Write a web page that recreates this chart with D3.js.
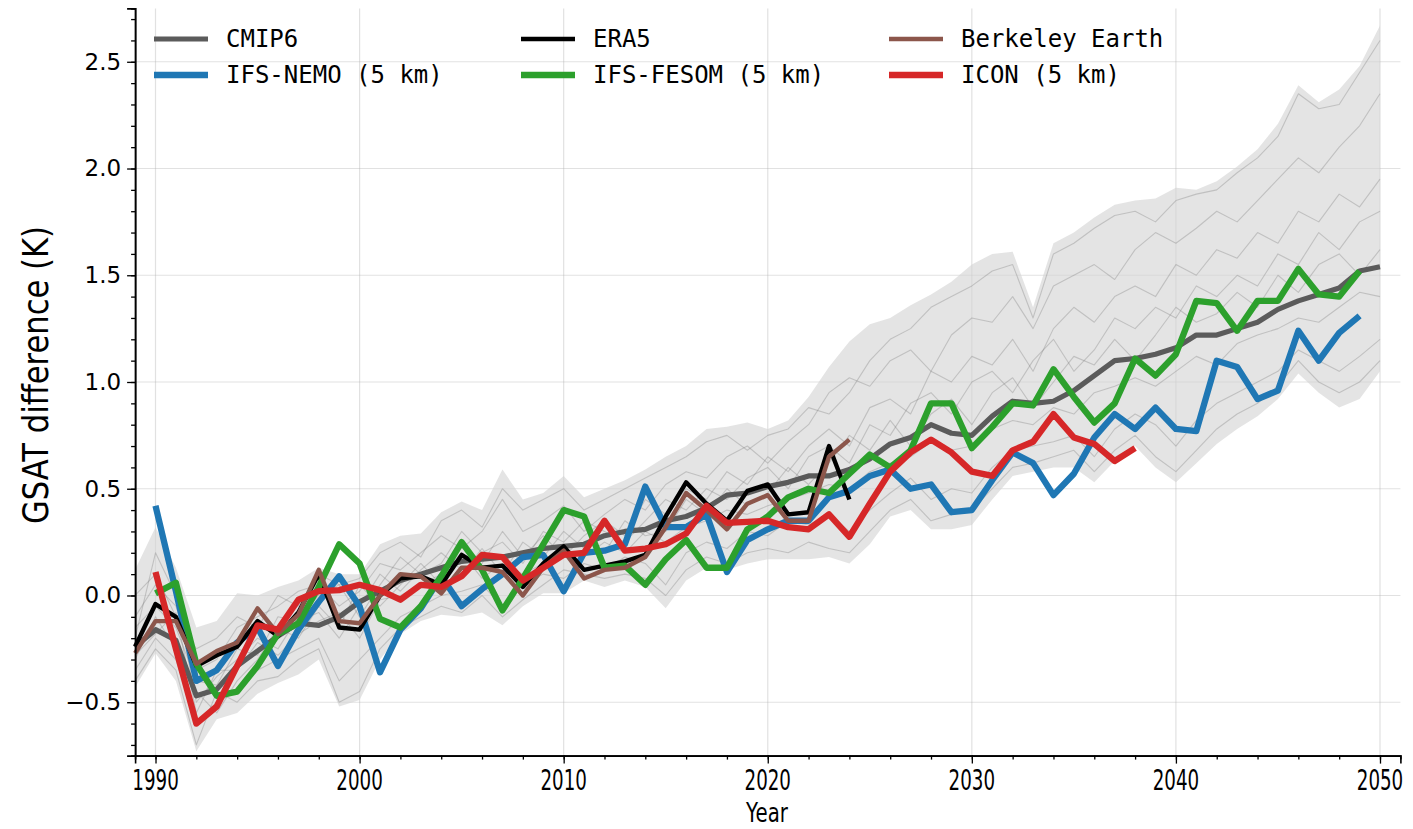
<!DOCTYPE html>
<html><head><meta charset="utf-8">
<script src="https://cdn.jsdelivr.net/npm/d3@7"></script>
<style>body{margin:0;background:#fff}svg{display:block}</style>
</head><body><svg id="c" width="1413" height="829"></svg>
<script>
// ---------------- DATA ----------------
const startYear = 1989;            // first year of CMIP6 / ERA5 / Berkeley
const modelStartYear = 1990;       // first year of the 5 km runs
const xTickLabels = ["1990","2000","2010","2020","2030","2040","2050"];
const yTickLabels = ["\u22120.5","0.0","0.5","1.0","1.5","2.0","2.5"];
const seriesNames = ["CMIP6","IFS-NEMO (5 km)","ERA5","IFS-FESOM (5 km)","Berkeley Earth","ICON (5 km)"];

// CMIP6 ensemble mean (1989-2050)
const cmip6Mean = [-0.24,-0.16,-0.21,-0.47,-0.44,-0.33,-0.26,-0.19,-0.13,-0.14,-0.10,-0.03,0.02,0.07,0.10,0.13,0.16,0.17,0.18,0.20,0.22,0.23,0.24,0.28,0.30,0.31,0.35,0.37,0.41,0.47,0.48,0.51,0.53,0.56,0.56,0.59,0.64,0.71,0.74,0.80,0.76,0.75,0.84,0.91,0.90,0.91,0.96,1.03,1.10,1.11,1.13,1.16,1.22,1.22,1.25,1.28,1.34,1.38,1.41,1.44,1.52,1.54];
// CMIP6 ensemble envelope (1989-2050)
const cmip6Upper = [0.12,0.32,0.13,-0.15,-0.12,0.01,0.00,0.04,0.07,0.13,0.10,0.10,0.24,0.28,0.29,0.39,0.44,0.40,0.59,0.45,0.48,0.56,0.46,0.50,0.54,0.59,0.65,0.70,0.78,0.79,0.81,0.78,0.82,0.93,1.07,1.19,1.27,1.30,1.36,1.41,1.47,1.55,1.60,1.61,1.35,1.65,1.70,1.77,1.83,1.85,1.86,1.91,1.90,1.94,2.01,2.09,2.21,2.39,2.31,2.37,2.48,2.67];
const cmip6Lower = [-0.43,-0.27,-0.40,-0.73,-0.58,-0.55,-0.46,-0.41,-0.37,-0.30,-0.52,-0.49,-0.30,-0.18,-0.12,-0.09,-0.10,-0.08,-0.14,-0.05,0.01,0.01,0.07,0.04,0.07,0.04,-0.06,0.07,0.13,0.12,0.15,0.17,0.17,0.17,0.18,0.15,0.24,0.37,0.40,0.31,0.31,0.33,0.45,0.56,0.58,0.60,0.60,0.53,0.63,0.70,0.60,0.53,0.62,0.71,0.78,0.84,0.92,1.04,0.95,0.88,0.92,1.05];
// individual CMIP6 members (1989-2050), read approximately
const memberA = [-0.10,0.05,-0.05,-0.35,-0.30,-0.15,-0.10,-0.05,0.02,0.05,-0.05,0.02,0.15,0.12,0.20,0.28,0.22,0.30,0.45,0.30,0.35,0.42,0.30,0.38,0.45,0.40,0.52,0.58,0.55,0.65,0.70,0.62,0.72,0.80,0.95,1.02,0.98,1.10,1.15,1.05,1.22,1.30,1.28,1.40,1.25,1.45,1.50,1.55,1.48,1.62,1.70,1.65,1.72,1.80,1.75,1.85,1.95,2.05,1.98,2.10,2.20,2.35];
const memberB = [-0.35,-0.20,-0.30,-0.60,-0.50,-0.45,-0.35,-0.30,-0.25,-0.20,-0.40,-0.30,-0.20,-0.10,-0.05,0.00,0.02,0.05,-0.05,0.05,0.10,0.08,0.15,0.12,0.18,0.15,0.05,0.20,0.25,0.22,0.30,0.28,0.35,0.33,0.38,0.30,0.40,0.48,0.55,0.45,0.50,0.48,0.60,0.68,0.70,0.72,0.75,0.65,0.78,0.85,0.80,0.70,0.82,0.90,0.95,1.00,1.05,1.15,1.10,1.05,1.12,1.20];
const memberC = [-0.20,0.20,0.00,-0.50,-0.38,-0.30,-0.20,-0.25,-0.10,0.00,0.05,-0.10,0.05,0.18,0.10,0.15,0.30,0.20,0.25,0.15,0.30,0.25,0.35,0.30,0.25,0.35,0.45,0.40,0.50,0.45,0.55,0.60,0.50,0.65,0.70,0.62,0.80,0.75,0.90,0.95,0.85,1.00,1.05,0.95,1.10,1.20,1.05,1.15,1.30,1.25,1.35,1.30,1.45,1.40,1.50,1.45,1.60,1.55,1.70,1.62,1.75,1.80];
const memberD = [-0.30,-0.10,-0.25,-0.45,-0.55,-0.40,-0.30,-0.15,-0.20,-0.05,-0.15,0.05,-0.05,0.05,0.15,0.05,0.10,0.22,0.10,0.25,0.18,0.30,0.22,0.20,0.35,0.28,0.30,0.45,0.38,0.50,0.42,0.48,0.60,0.52,0.62,0.75,0.68,0.82,0.70,0.85,0.92,0.80,0.95,1.02,0.88,1.00,1.12,1.08,1.20,1.10,1.22,1.35,1.28,1.32,1.42,1.35,1.50,1.42,1.55,1.60,1.50,1.62];
const memberE = [0.00,0.10,-0.10,-0.25,-0.20,-0.10,-0.15,0.00,-0.05,0.10,0.05,0.08,0.20,0.25,0.18,0.35,0.40,0.32,0.50,0.40,0.45,0.50,0.40,0.45,0.50,0.55,0.60,0.65,0.72,0.75,0.68,0.75,0.78,0.88,0.85,0.95,1.10,1.20,1.25,1.35,1.40,1.45,1.52,1.55,1.30,1.60,1.65,1.72,1.78,1.80,1.75,1.85,1.88,1.90,1.98,2.05,2.15,2.35,2.28,2.30,2.45,2.60];
const memberF = [-0.40,-0.25,-0.35,-0.70,-0.45,-0.50,-0.40,-0.38,-0.30,-0.25,-0.50,-0.45,-0.25,-0.15,-0.10,-0.05,-0.08,0.00,-0.10,-0.02,0.05,0.12,0.10,0.08,0.10,0.08,0.00,0.12,0.18,0.15,0.20,0.22,0.20,0.25,0.22,0.20,0.30,0.40,0.45,0.35,0.38,0.40,0.50,0.60,0.62,0.65,0.68,0.58,0.68,0.75,0.65,0.58,0.68,0.78,0.85,0.90,0.98,1.10,1.00,0.95,1.00,1.10];
const memberG = [-0.15,-0.05,-0.15,-0.40,-0.42,-0.25,-0.28,-0.10,-0.12,-0.08,-0.20,-0.05,0.10,0.02,0.12,0.20,0.12,0.15,0.30,0.18,0.28,0.18,0.28,0.35,0.28,0.45,0.38,0.50,0.45,0.58,0.52,0.65,0.58,0.70,0.78,0.70,0.88,0.92,0.85,1.05,1.00,1.12,1.08,1.20,1.05,1.25,1.35,1.28,1.40,1.45,1.40,1.55,1.50,1.62,1.58,1.70,1.65,1.80,1.75,1.88,1.82,1.95];
const memberH = [-0.28,-0.18,-0.08,-0.55,-0.35,-0.35,-0.22,-0.28,-0.18,-0.12,-0.08,-0.20,-0.02,0.00,0.05,0.10,0.20,0.08,0.15,0.10,0.15,0.20,0.18,0.25,0.20,0.30,0.25,0.32,0.35,0.40,0.38,0.42,0.45,0.48,0.52,0.50,0.58,0.62,0.65,0.72,0.68,0.70,0.78,0.82,0.80,0.88,0.85,0.95,0.98,1.02,0.98,1.05,1.12,1.08,1.18,1.22,1.25,1.30,1.28,1.35,1.42,1.40];

// observations (1989-2024)
const era5 = [-0.24,-0.04,-0.10,-0.33,-0.28,-0.24,-0.12,-0.19,-0.08,0.10,-0.15,-0.16,0.00,0.08,0.09,0.05,0.19,0.13,0.14,0.04,0.15,0.23,0.12,0.14,0.16,0.19,0.37,0.53,0.43,0.35,0.49,0.52,0.38,0.39,0.70,0.45];
const berkeley = [-0.27,-0.12,-0.12,-0.32,-0.26,-0.22,-0.06,-0.18,-0.09,0.12,-0.12,-0.13,0.00,0.10,0.09,0.01,0.13,0.13,0.11,0.00,0.13,0.21,0.08,0.12,0.13,0.18,0.32,0.48,0.40,0.31,0.43,0.47,0.35,0.35,0.65,0.73];

// 5 km simulations (from 1990)
const ifsNemo = [0.42,0.02,-0.40,-0.35,-0.22,-0.15,-0.33,-0.16,-0.03,0.09,-0.05,-0.36,-0.16,-0.06,0.09,-0.05,0.03,0.10,0.18,0.19,0.02,0.20,0.21,0.24,0.51,0.32,0.32,0.38,0.11,0.26,0.31,0.35,0.35,0.46,0.49,0.56,0.59,0.50,0.52,0.39,0.40,0.54,0.67,0.62,0.47,0.57,0.74,0.85,0.78,0.88,0.78,0.77,1.10,1.07,0.92,0.96,1.24,1.10,1.23,1.31];
const ifsFesom = [0.01,0.06,-0.32,-0.47,-0.45,-0.33,-0.18,-0.13,0.04,0.24,0.15,-0.11,-0.15,-0.05,0.09,0.25,0.12,-0.07,0.08,0.24,0.40,0.37,0.13,0.14,0.05,0.17,0.26,0.13,0.13,0.31,0.37,0.46,0.50,0.48,0.57,0.66,0.60,0.68,0.90,0.90,0.69,0.79,0.90,0.89,1.06,0.93,0.81,0.90,1.11,1.03,1.13,1.38,1.37,1.24,1.38,1.38,1.53,1.41,1.40,1.52];
const icon = [0.11,-0.25,-0.60,-0.52,-0.33,-0.14,-0.16,-0.02,0.02,0.025,0.05,0.025,-0.02,0.05,0.04,0.09,0.19,0.18,0.07,0.13,0.19,0.20,0.35,0.21,0.22,0.24,0.29,0.42,0.34,0.345,0.35,0.32,0.31,0.38,0.275,0.43,0.58,0.67,0.73,0.67,0.58,0.56,0.68,0.72,0.85,0.74,0.71,0.63,0.69];

// ---------------- CHART ----------------
const svg = d3.select("#c");
const x = d3.scaleLinear().domain([1989, 2051]).range([135.1, 1400.4]);
const y = d3.scaleLinear().domain([-0.75, 2.75]).range([755.6, 8.4]);

const toPts = (arr, y0) => arr.map((v, i) => [y0 + i, v]);

// grid
const grid = svg.append("g");
const xMajor = xTickLabels.map(Number);
const yMajor = yTickLabels.map(s => +s.replace("\u2212", "-"));
grid.selectAll("line.vx").data(xMajor).join("line")
  .attr("x1", d => x(d)).attr("x2", d => x(d)).attr("y1", y(2.75)).attr("y2", y(-0.75))
  .attr("stroke", "#b0b0b0").attr("stroke-opacity", 0.38).attr("stroke-width", 1.2);
grid.selectAll("line.hy").data(yMajor).join("line")
  .attr("y1", d => y(d)).attr("y2", d => y(d)).attr("x1", x(1989)).attr("x2", x(2051))
  .attr("stroke", "#b0b0b0").attr("stroke-opacity", 0.38).attr("stroke-width", 1.2);

// band
const bandData = cmip6Upper.map((u, i) => ({yr: startYear + i, hi: u, lo: cmip6Lower[i]}));
svg.append("path").datum(bandData)
  .attr("d", d3.area().x(d => x(d.yr)).y0(d => y(d.lo)).y1(d => y(d.hi)))
  .attr("fill", "#d3d3d3").attr("fill-opacity", 0.62).attr("stroke", "none");

const line = d3.line().x(d => x(d[0])).y(d => y(d[1]));

// members
const members = [memberA, memberB, memberC, memberD, memberE, memberF, memberG, memberH];
svg.append("g").selectAll("path").data(members).join("path")
  .attr("d", m => line(toPts(m, startYear)))
  .attr("fill", "none").attr("stroke", "#777").attr("stroke-opacity", 0.32).attr("stroke-width", 1.1)
  .attr("stroke-linejoin", "round");

// main series
const series = [
  {name: seriesNames[0], data: cmip6Mean, y0: startYear, color: "#5b5b5b", w: 5.2},
  {name: seriesNames[1], data: ifsNemo, y0: modelStartYear, color: "#1f77b4", w: 6.3},
  {name: seriesNames[2], data: era5, y0: startYear, color: "#000000", w: 4.4},
  {name: seriesNames[3], data: ifsFesom, y0: modelStartYear, color: "#2ca02c", w: 6.3},
  {name: seriesNames[4], data: berkeley, y0: startYear, color: "#8c564b", w: 4.4},
  {name: seriesNames[5], data: icon, y0: modelStartYear, color: "#d62728", w: 6.3},
];
svg.append("g").selectAll("path").data(series).join("path")
  .attr("d", s => line(toPts(s.data, s.y0)))
  .attr("fill", "none").attr("stroke", s => s.color).attr("stroke-width", s => s.w)
  .attr("stroke-linejoin", "round").attr("stroke-linecap", "butt");

// axes (ticks via d3 axes, labels as scaled text)
const xAxisG = svg.append("g").attr("transform", `translate(0,${y(-0.75)})`);
xAxisG.call(d3.axisBottom(x).tickValues(d3.range(1990, 2051, 2)).tickSize(4).tickFormat(""));
xAxisG.append("g").call(d3.axisBottom(x).tickValues(xMajor).tickSize(8).tickFormat(""));
xAxisG.selectAll("path.domain").attr("stroke", "#000").attr("stroke-width", 1.6);
xAxisG.selectAll(".tick line").attr("stroke", "#000").attr("stroke-width", 1.3);
svg.append("g").selectAll("text").data(xMajor).join("text")
  .attr("transform", d => `translate(${x(d)},790) scale(0.63,1)`)
  .attr("text-anchor", "middle").attr("font-family", "DejaVu Sans").attr("font-size", 29)
  .attr("fill", "#000").text((d, i) => xTickLabels[i]);

const yAxisG = svg.append("g").attr("transform", `translate(${x(1989)},0)`);
yAxisG.call(d3.axisLeft(y).tickValues(d3.range(-7, 28).map(k => k / 10)).tickSize(4).tickFormat(""));
yAxisG.append("g").call(d3.axisLeft(y).tickValues(yMajor).tickSize(8).tickFormat((d, i) => yTickLabels[i]));
yAxisG.selectAll("path.domain").attr("stroke", "#000").attr("stroke-width", 1.6);
yAxisG.selectAll(".tick line").attr("stroke", "#000").attr("stroke-width", 1.3);
yAxisG.selectAll(".tick text").attr("font-family", "DejaVu Sans").attr("font-size", 23)
  .attr("fill", "#000").attr("x", -14);

// axis labels
svg.append("text").attr("transform", "translate(767,822) scale(0.76,1)").attr("text-anchor", "middle")
  .attr("font-family", "DejaVu Sans").attr("font-size", 26).attr("fill", "#000").text("Year");
svg.append("text").attr("transform", "translate(48,375) rotate(-90) scale(0.85,1)").attr("text-anchor", "middle")
  .attr("font-family", "DejaVu Sans").attr("font-size", 36).attr("fill", "#000").text("GSAT difference (K)");

// legend (column-major, 3 columns x 2 rows)
const legCols = [154, 521, 889];
const legRows = [39, 75];
const leg = svg.append("g");
series.forEach((s, i) => {
  const cx = legCols[Math.floor(i / 2)], cy = legRows[i % 2];
  leg.append("line").attr("x1", cx).attr("x2", cx + 54).attr("y1", cy).attr("y2", cy)
    .attr("stroke", s.color).attr("stroke-width", s.w);
  leg.append("text").attr("x", cx + 72).attr("y", cy).attr("dominant-baseline", "central")
    .attr("font-family", "DejaVu Sans Mono").attr("font-size", 24).attr("fill", "#000").text(s.name);
});
</script></body></html>
